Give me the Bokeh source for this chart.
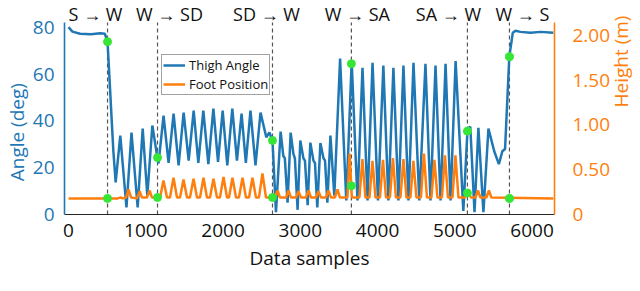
import math
from bokeh.plotting import figure
from bokeh.models import (Range1d, LinearAxis, FixedTicker, Legend, LegendItem,
                          NumeralTickFormatter, ColumnDataSource)
from bokeh.core.properties import value
from bokeh.embed import file_html
from bokeh.resources import INLINE

# ---- data (samples, degrees / metres) ----
thigh_pts = [
    (0, 80.0), (50, 78.1), (150, 77.2), (290, 77.0), (410, 77.4), (470, 77.2), (505, 73.8),
    (580, 27.3), (610, 13.7), (670, 33.7), (750, 3.0), (815, 35.0), (895, 3.0), (960, 36.7),
    (1020, 8.0), (1085, 38.0), (1150, 24.3),
    (1165, 21.8), (1230, 42.2), (1295, 22.0), (1360, 43.1), (1425, 21.0), (1490, 43.5),
    (1555, 23.0), (1620, 44.4), (1680, 22.0), (1745, 44.4), (1810, 21.5), (1875, 45.2),
    (1935, 22.5), (1995, 44.4), (2055, 21.0), (2120, 45.2), (2180, 23.0), (2240, 43.1),
    (2295, 22.0), (2355, 44.4), (2420, 21.0), (2485, 43.5),
    (2560, 33.0), (2600, 35.0), (2640, 31.6), (2685, 1.0),
    (2745, 35.4), (2780, 25.0), (2800, 24.0), (2835, 5.0),
    (2875, 35.0), (2910, 26.0), (2930, 24.0), (2965, 2.0),
    (3000, 31.6), (3040, 24.0), (3060, 23.0), (3095, 4.0),
    (3130, 30.7), (3170, 23.0), (3190, 22.0), (3220, 3.0),
    (3260, 30.5), (3300, 24.0), (3320, 23.0), (3350, 5.0),
    (3390, 33.7), (3440, 8.0),
    (3515, 66.6), (3595, 6.0), (3665, 65.3), (3740, 6.0), (3805, 62.7), (3870, 6.0),
    (3935, 64.8), (4005, 6.0), (4075, 63.6), (4140, 6.0), (4205, 62.7), (4270, 6.0),
    (4335, 63.6), (4400, 6.0), (4465, 64.8), (4540, 6.0), (4620, 64.4), (4685, 6.0),
    (4750, 63.6), (4815, 6.0), (4880, 64.4), (4945, 6.0), (5010, 65.5),
    (5110, 1.5), (5165, 36.7), (5200, 37.5), (5255, 1.0), (5305, 37.0), (5370, 1.0),
    (5435, 36.7), (5510, 27.0), (5570, 21.5), (5615, 27.0), (5650, 28.0), (5705, 67.4),
    (5750, 77.6), (5785, 78.5), (5850, 78.0), (5980, 77.6), (6110, 78.0), (6275, 77.6),
]

foot_pts = [
    (0, 0.18), (635, 0.18), (675, 0.19), (700, 0.18), (745, 0.19), (776, 0.28), (810, 0.19),
    (885, 0.18), (920, 0.26), (950, 0.19), (1015, 0.19), (1048, 0.27), (1080, 0.19), (1152, 0.19),
    (1185, 0.19), (1229, 0.38), (1275, 0.19), (1313, 0.19), (1359, 0.41), (1404, 0.19),
    (1443, 0.19), (1488, 0.39), (1534, 0.19), (1572, 0.19), (1618, 0.40), (1663, 0.19),
    (1702, 0.19), (1747, 0.41), (1792, 0.19), (1831, 0.19), (1876, 0.40), (1922, 0.19),
    (1960, 0.19), (2006, 0.42), (2051, 0.19), (2077, 0.19), (2122, 0.41), (2168, 0.19),
    (2206, 0.19), (2252, 0.41), (2297, 0.19), (2336, 0.19), (2381, 0.41), (2426, 0.19),
    (2465, 0.19), (2510, 0.46), (2556, 0.19), (2640, 0.19),
    (2672, 0.19), (2705, 0.27), (2737, 0.19), (2815, 0.19), (2847, 0.27), (2879, 0.19),
    (2944, 0.19), (2976, 0.26), (3009, 0.19), (3073, 0.19), (3106, 0.27), (3138, 0.19),
    (3203, 0.19), (3235, 0.26), (3267, 0.19), (3332, 0.19), (3364, 0.27), (3397, 0.19),
    (3448, 0.19), (3481, 0.28), (3513, 0.19),
    (3610, 0.19), (3638, 0.68), (3668, 0.19), (3765, 0.19), (3804, 0.62), (3843, 0.19),
    (3895, 0.19), (3934, 0.60), (3973, 0.19), (4031, 0.19), (4070, 0.61), (4109, 0.19),
    (4160, 0.19), (4199, 0.63), (4238, 0.19), (4296, 0.19), (4335, 0.62), (4374, 0.19),
    (4425, 0.19), (4464, 0.60), (4503, 0.19), (4561, 0.19), (4600, 0.68), (4639, 0.19),
    (4697, 0.19), (4736, 0.61), (4775, 0.19), (4833, 0.19), (4872, 0.66), (4911, 0.19),
    (4969, 0.19), (5008, 0.66), (5047, 0.19),
    (5131, 0.19), (5170, 0.25), (5209, 0.19), (5267, 0.19), (5299, 0.27), (5331, 0.19),
    (5409, 0.19), (5441, 0.27), (5473, 0.19), (6276, 0.18),
]

transitions = [505, 1152, 2640, 3661, 5163, 5707]
transition_labels = ["S \u2192 W", "W \u2192 SD", "SD \u2192 W", "W \u2192 SA", "SA \u2192 W", "W \u2192 S"]
thigh_marks = [73.8, 24.3, 31.6, 64.4, 35.6, 67.4]
foot_marks = [0.18, 0.19, 0.19, 0.32, 0.24, 0.18]

x_ticks = [0, 1000, 2000, 3000, 4000, 5000, 6000]
angle_ticks = [0, 20, 40, 60, 80]
height_ticks = [0, 0.5, 1.0, 1.5, 2.0]

thigh_x = [a for a, b in thigh_pts]
thigh_y = [b for a, b in thigh_pts]
foot_x = [a for a, b in foot_pts]
foot_y = [b for a, b in foot_pts]

# ---- styles / layout ----
BLUE = "#1f77b4"
ORANGE = "#ff7f0e"
GREEN = "#36e636"
FONT = "Open Sans"
ANGLE_TOP = 82.0          # top of the drawn angle axis
HEIGHT_TOP = 2.145        # top of the drawn height axis
ANGLE_VIEW = 91.4         # view extends above the axes to hold the phase labels
HEIGHT_VIEW = 2.391
LABEL_Y = 85.7
label_offsets = [-12, 12, -6, 6, -19, 13]
NB = "\u00a0"             # non-breaking spaces nudge the axis titles along their axes

p = figure(frame_width=490, frame_height=214, output_backend="svg", toolbar_location=None,
           title=None, x_range=Range1d(-52, 6290), y_range=Range1d(0, ANGLE_VIEW),
           min_border_left=64, min_border_right=0, min_border_top=0, min_border_bottom=71)
p.extra_y_ranges = {"h": Range1d(0, HEIGHT_VIEW)}
p.outline_line_color = None
p.xgrid.visible = False
p.ygrid.visible = False
p.background_fill_color = "white"
p.border_fill_color = "white"

# x axis
xa = p.xaxis[0]
xa.ticker = FixedTicker(ticks=x_ticks)
xa.axis_label = "Data samples"
xa.axis_line_color = "#262626"
xa.axis_line_width = 1.2
xa.major_tick_line_color = None
xa.minor_tick_line_color = None
xa.major_label_text_font = FONT
xa.major_label_text_font_size = "19px"
xa.major_label_text_color = "#111111"
xa.major_label_standoff = 3
xa.axis_label_text_font = FONT
xa.axis_label_text_font_size = "19px"
xa.axis_label_text_font_style = "normal"
xa.axis_label_text_color = "#111111"
xa.axis_label_standoff = 5

# left axis
ya = p.yaxis[0]
ya.ticker = FixedTicker(ticks=angle_ticks)
ya.bounds = (0, ANGLE_TOP)
ya.axis_label = "Angle (deg)" + NB * 10
ya.axis_line_color = BLUE
ya.axis_line_width = 1.6
ya.major_tick_line_color = None
ya.minor_tick_line_color = None
ya.major_label_text_font = FONT
ya.major_label_text_font_size = "19px"
ya.major_label_text_color = BLUE
ya.major_label_standoff = 4
ya.axis_label_text_font = FONT
ya.axis_label_text_font_size = "19px"
ya.axis_label_text_font_style = "normal"
ya.axis_label_text_color = BLUE
ya.axis_label_standoff = 0

# right axis
ra = LinearAxis(y_range_name="h", ticker=FixedTicker(ticks=height_ticks),
                formatter=NumeralTickFormatter(format="0.00"))
ra.bounds = (0, HEIGHT_TOP)
ra.major_label_overrides = {0: "0"}
ra.axis_label = "Height (m)" + NB * 5
ra.axis_label_orientation = math.pi / 2
ra.axis_line_color = ORANGE
ra.axis_line_width = 1.6
ra.major_tick_line_color = None
ra.minor_tick_line_color = None
ra.major_label_text_font = FONT
ra.major_label_text_font_size = "19px"
ra.major_label_text_color = ORANGE
ra.major_label_standoff = 12
ra.axis_label_text_font = FONT
ra.axis_label_text_font_size = "19px"
ra.axis_label_text_font_style = "normal"
ra.axis_label_text_color = ORANGE
ra.axis_label_standoff = 8
p.add_layout(ra, "right")

# transition lines (from 0 to the top of the axes)
p.segment(x0=transitions, y0=0, x1=transitions, y1=ANGLE_TOP,
          line_color="#555555", line_width=1.2, line_dash="4 3")

r_thigh = p.line(thigh_x, thigh_y, line_color=BLUE, line_width=2.5)
r_foot = p.line(foot_x, foot_y, line_color=ORANGE, line_width=2.5, y_range_name="h")

p.scatter(transitions, thigh_marks, size=8, fill_color=GREEN, line_color=GREEN)
p.scatter(transitions, foot_marks, size=8, fill_color=GREEN, line_color=GREEN, y_range_name="h")

lab_src = ColumnDataSource(dict(x=transitions, text=transition_labels, off=label_offsets))
p.text(x="x", y=LABEL_Y, text="text", x_offset="off", source=lab_src,
       text_align="center", text_baseline="alphabetic",
       text_font=value(FONT), text_font_size="18px", text_color="#111111")

legend = Legend(items=[LegendItem(label="Thigh Angle", renderers=[r_thigh]),
                       LegendItem(label="Foot Position", renderers=[r_foot])],
                location=(97, 119))
legend.label_text_font = FONT
legend.label_text_font_size = "13px"
legend.label_text_color = "#111111"
legend.label_height = 16
legend.glyph_height = 16
legend.glyph_width = 22
legend.label_standoff = 4
legend.spacing = 1
legend.padding = 1
legend.margin = 0
legend.border_line_color = "#444444"
legend.border_line_width = 1
legend.background_fill_color = "white"
legend.background_fill_alpha = 1.0
p.add_layout(legend)

open("out.html", "w").write(file_html(p, INLINE))
